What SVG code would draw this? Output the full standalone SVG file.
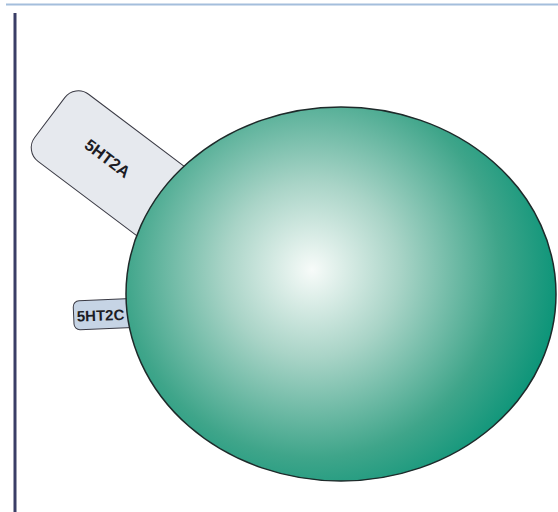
<svg xmlns="http://www.w3.org/2000/svg" width="558" height="512" viewBox="0 0 558 512">
<defs>
<radialGradient id="cell" cx="312" cy="270" r="250" gradientUnits="userSpaceOnUse">
<stop offset="0" stop-color="#f7fbf9"/>
<stop offset="0.35" stop-color="#a9d4c7"/>
<stop offset="0.75" stop-color="#3fa58a"/>
<stop offset="1" stop-color="#0a9478"/>
</radialGradient>
</defs>
<style>
.lbl{font-family:"Liberation Sans",Arial,sans-serif;font-weight:bold;fill:#1c1c24}
.tab{stroke:#3a3a44;stroke-width:1}
</style>
<rect width="558" height="512" fill="#ffffff"/>
<line x1="6" y1="4.5" x2="558" y2="4.5" stroke="#a4bedc" stroke-width="2"/>
<line x1="15" y1="13" x2="15" y2="512" stroke="#3a3e66" stroke-width="3"/>
<g id="receptor-5HT2A">
<g transform="translate(75,84) rotate(37)">
<rect class="tab" x="0" y="0" width="175" height="84" rx="17" fill="#e6e9ee"/>
</g>
<text class="lbl" font-size="16.5" text-anchor="middle" transform="translate(104,163) rotate(37)">5HT2A</text>
</g>
<g id="receptor-5HT2C">
<g transform="translate(73,301) rotate(-2.5)">
<rect class="tab" x="0" y="0" width="70" height="29" rx="6" fill="#c6d4e5"/>
</g>
<text class="lbl" font-size="15" transform="translate(77,321.5) rotate(-2)">5HT2C</text>
</g>
<g id="cell-body">
<ellipse cx="341" cy="294" rx="215" ry="187" fill="url(#cell)" stroke="#1e2a2a" stroke-width="1.5"/>
</g>
<g id="connectors"></g>
</svg>
